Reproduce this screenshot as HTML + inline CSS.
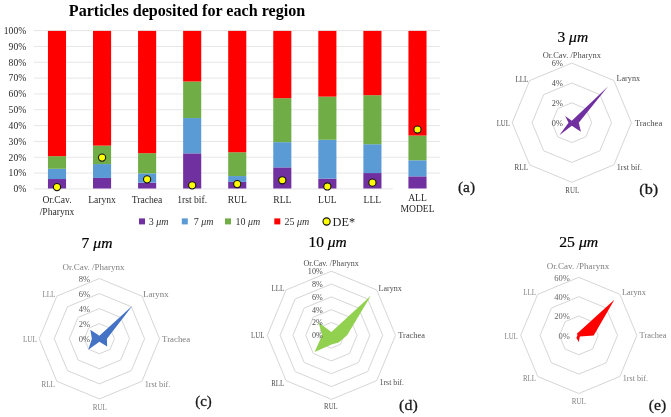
<!DOCTYPE html><html><head><meta charset="utf-8"><title>Particles deposited for each region</title>
<style>html,body{margin:0;padding:0;background:#fff}svg{display:block;will-change:transform}text{font-family:"Liberation Serif","DejaVu Serif",serif}.ax{font-size:9.6px;fill:#2b2b2b}.lg{font-size:10px;fill:#333}.tt{font-size:15.2px;fill:#000;stroke:#000;stroke-width:0.2px}.pl{font-size:15.3px;fill:#1a1a1a;stroke:#1a1a1a;stroke-width:0.3px}</style></head><body>
<svg width="671" height="417" viewBox="0 0 671 417">
<rect width="671" height="417" fill="#fff"/>
<line x1="34" x2="392.7" y1="188.90" y2="188.90" stroke="#d9d9d9" stroke-width="0.65"/>
<text class="ax" x="26.2" y="192.20" text-anchor="end">0%</text>
<line x1="34" x2="440" y1="173.07" y2="173.07" stroke="#d9d9d9" stroke-width="0.65"/>
<text class="ax" x="26.2" y="176.37" text-anchor="end">10%</text>
<line x1="34" x2="440" y1="157.24" y2="157.24" stroke="#d9d9d9" stroke-width="0.65"/>
<text class="ax" x="26.2" y="160.54" text-anchor="end">20%</text>
<line x1="34" x2="440" y1="141.41" y2="141.41" stroke="#d9d9d9" stroke-width="0.65"/>
<text class="ax" x="26.2" y="144.71" text-anchor="end">30%</text>
<line x1="34" x2="440" y1="125.58" y2="125.58" stroke="#d9d9d9" stroke-width="0.65"/>
<text class="ax" x="26.2" y="128.88" text-anchor="end">40%</text>
<line x1="34" x2="440" y1="109.75" y2="109.75" stroke="#d9d9d9" stroke-width="0.65"/>
<text class="ax" x="26.2" y="113.05" text-anchor="end">50%</text>
<line x1="34" x2="440" y1="93.92" y2="93.92" stroke="#d9d9d9" stroke-width="0.65"/>
<text class="ax" x="26.2" y="97.22" text-anchor="end">60%</text>
<line x1="34" x2="440" y1="78.09" y2="78.09" stroke="#d9d9d9" stroke-width="0.65"/>
<text class="ax" x="26.2" y="81.39" text-anchor="end">70%</text>
<line x1="34" x2="440" y1="62.26" y2="62.26" stroke="#d9d9d9" stroke-width="0.65"/>
<text class="ax" x="26.2" y="65.56" text-anchor="end">80%</text>
<line x1="34" x2="440" y1="46.43" y2="46.43" stroke="#d9d9d9" stroke-width="0.65"/>
<text class="ax" x="26.2" y="49.73" text-anchor="end">90%</text>
<line x1="34" x2="440" y1="30.60" y2="30.60" stroke="#d9d9d9" stroke-width="0.65"/>
<text class="ax" x="26.2" y="33.90" text-anchor="end">100%</text>
<rect x="47.95" y="179.04" width="18.1" height="9.46" fill="#7030a0"/>
<rect x="47.95" y="168.80" width="18.1" height="10.24" fill="#5b9bd5"/>
<rect x="47.95" y="156.19" width="18.1" height="12.61" fill="#70ad47"/>
<rect x="47.95" y="30.90" width="18.1" height="125.29" fill="#ff0000"/>
<rect x="93.01" y="177.94" width="18.1" height="10.56" fill="#7030a0"/>
<rect x="93.01" y="164.07" width="18.1" height="13.87" fill="#5b9bd5"/>
<rect x="93.01" y="145.63" width="18.1" height="18.44" fill="#70ad47"/>
<rect x="93.01" y="30.90" width="18.1" height="114.73" fill="#ff0000"/>
<rect x="138.07" y="182.67" width="18.1" height="5.83" fill="#7030a0"/>
<rect x="138.07" y="173.37" width="18.1" height="9.30" fill="#5b9bd5"/>
<rect x="138.07" y="153.20" width="18.1" height="20.17" fill="#70ad47"/>
<rect x="138.07" y="30.90" width="18.1" height="122.30" fill="#ff0000"/>
<rect x="183.13" y="153.36" width="18.1" height="35.14" fill="#7030a0"/>
<rect x="183.13" y="118.05" width="18.1" height="35.30" fill="#5b9bd5"/>
<rect x="183.13" y="81.49" width="18.1" height="36.56" fill="#70ad47"/>
<rect x="183.13" y="30.90" width="18.1" height="50.59" fill="#ff0000"/>
<rect x="228.19" y="181.88" width="18.1" height="6.62" fill="#7030a0"/>
<rect x="228.19" y="176.05" width="18.1" height="5.83" fill="#5b9bd5"/>
<rect x="228.19" y="152.25" width="18.1" height="23.80" fill="#70ad47"/>
<rect x="228.19" y="30.90" width="18.1" height="121.35" fill="#ff0000"/>
<rect x="273.25" y="167.38" width="18.1" height="21.12" fill="#7030a0"/>
<rect x="273.25" y="142.17" width="18.1" height="25.22" fill="#5b9bd5"/>
<rect x="273.25" y="98.20" width="18.1" height="43.97" fill="#70ad47"/>
<rect x="273.25" y="30.90" width="18.1" height="67.30" fill="#ff0000"/>
<rect x="318.31" y="178.57" width="18.1" height="9.93" fill="#7030a0"/>
<rect x="318.31" y="139.80" width="18.1" height="38.77" fill="#5b9bd5"/>
<rect x="318.31" y="96.62" width="18.1" height="43.18" fill="#70ad47"/>
<rect x="318.31" y="30.90" width="18.1" height="65.72" fill="#ff0000"/>
<rect x="363.37" y="173.06" width="18.1" height="15.44" fill="#7030a0"/>
<rect x="363.37" y="144.21" width="18.1" height="28.84" fill="#5b9bd5"/>
<rect x="363.37" y="95.20" width="18.1" height="49.01" fill="#70ad47"/>
<rect x="363.37" y="30.90" width="18.1" height="64.30" fill="#ff0000"/>
<rect x="408.43" y="176.36" width="18.1" height="12.14" fill="#7030a0"/>
<rect x="408.43" y="160.29" width="18.1" height="16.08" fill="#5b9bd5"/>
<rect x="408.43" y="135.55" width="18.1" height="24.74" fill="#70ad47"/>
<rect x="408.43" y="30.90" width="18.1" height="104.65" fill="#ff0000"/>
<circle cx="57.00" cy="187.08" r="3.6" fill="#ffff00" stroke="#111" stroke-width="1.1"/>
<circle cx="102.06" cy="157.61" r="3.6" fill="#ffff00" stroke="#111" stroke-width="1.1"/>
<circle cx="147.12" cy="179.36" r="3.6" fill="#ffff00" stroke="#111" stroke-width="1.1"/>
<circle cx="192.18" cy="185.35" r="3.6" fill="#ffff00" stroke="#111" stroke-width="1.1"/>
<circle cx="237.24" cy="184.09" r="3.6" fill="#ffff00" stroke="#111" stroke-width="1.1"/>
<circle cx="282.30" cy="180.30" r="3.6" fill="#ffff00" stroke="#111" stroke-width="1.1"/>
<circle cx="327.36" cy="186.45" r="3.6" fill="#ffff00" stroke="#111" stroke-width="1.1"/>
<circle cx="372.42" cy="182.67" r="3.6" fill="#ffff00" stroke="#111" stroke-width="1.1"/>
<circle cx="417.48" cy="129.56" r="3.6" fill="#ffff00" stroke="#111" stroke-width="1.1"/>
<text class="ax" x="57.00" y="203.40" text-anchor="middle">Or.Cav.</text>
<text class="ax" x="57.00" y="214.95" text-anchor="middle">/Pharynx</text>
<text class="ax" x="102.06" y="203.40" text-anchor="middle">Larynx</text>
<text class="ax" x="147.12" y="203.40" text-anchor="middle">Trachea</text>
<text class="ax" x="192.18" y="203.40" text-anchor="middle">1rst bif.</text>
<text class="ax" x="237.24" y="203.40" text-anchor="middle">RUL</text>
<text class="ax" x="282.30" y="203.40" text-anchor="middle">RLL</text>
<text class="ax" x="327.36" y="203.40" text-anchor="middle">LUL</text>
<text class="ax" x="372.42" y="203.40" text-anchor="middle">LLL</text>
<text class="ax" x="417.48" y="200.90" text-anchor="middle">ALL</text>
<text class="ax" x="417.48" y="212.45" text-anchor="middle">MODEL</text>
<text x="187" y="15.6" text-anchor="middle" font-weight="bold" font-size="16.1px" fill="#000">Particles deposited for each region</text>
<rect x="139" y="218.4" width="6" height="6" fill="#7030a0"/>
<text class="lg" x="148.8" y="224.6">3 <tspan font-style="italic">μm</tspan></text>
<rect x="181.8" y="218.4" width="6" height="6" fill="#5b9bd5"/>
<text class="lg" x="193.7" y="224.6">7 <tspan font-style="italic">μm</tspan></text>
<rect x="225" y="218.4" width="6" height="6" fill="#70ad47"/>
<text class="lg" x="235.4" y="224.6">10 <tspan font-style="italic">μm</tspan></text>
<rect x="274.3" y="218.4" width="6" height="6" fill="#ff0000"/>
<text class="lg" x="284.6" y="224.6">25 <tspan font-style="italic">μm</tspan></text>
<circle cx="326.6" cy="221.5" r="3.6" fill="#ffff00" stroke="#111" stroke-width="1.1"/>
<text x="332.6" y="225.8" font-size="12.3px" fill="#222">DE*</text>
<text class="pl" x="466.5" y="192.3" text-anchor="middle" textLength="17" lengthAdjust="spacingAndGlyphs">(a)</text>
<text class="pl" x="648.7" y="193.6" text-anchor="middle" textLength="18.9" lengthAdjust="spacingAndGlyphs">(b)</text>
<text class="pl" x="203.5" y="406.3" text-anchor="middle" textLength="16.6" lengthAdjust="spacingAndGlyphs">(c)</text>
<text class="pl" x="408.4" y="409.8" text-anchor="middle" textLength="18.6" lengthAdjust="spacingAndGlyphs">(d)</text>
<text class="pl" x="657.5" y="409.8" text-anchor="middle" textLength="17.4" lengthAdjust="spacingAndGlyphs">(e)</text>
<polygon points="571.80,102.83 585.85,108.65 591.67,122.70 585.85,136.75 571.80,142.57 557.75,136.75 551.93,122.70 557.75,108.65" fill="none" stroke="#d6d6d6" stroke-width="1"/>
<polygon points="571.80,82.97 599.90,94.60 611.53,122.70 599.90,150.80 571.80,162.43 543.70,150.80 532.07,122.70 543.70,94.60" fill="none" stroke="#d6d6d6" stroke-width="1"/>
<polygon points="571.80,63.10 613.94,80.56 631.40,122.70 613.94,164.84 571.80,182.30 529.66,164.84 512.20,122.70 529.66,80.56" fill="none" stroke="#d6d6d6" stroke-width="1"/>
<polygon points="571.80,120.71 607.97,86.53 578.75,122.70 580.93,131.83 571.80,125.68 559.30,135.20 568.52,122.70 565.13,116.03" fill="#7030a0"/>
<text x="562.80" y="125.70" text-anchor="end" font-size="8.3px" fill="#4d4d4d">0%</text>
<text x="562.80" y="105.83" text-anchor="end" font-size="8.3px" fill="#4d4d4d">2%</text>
<text x="562.80" y="85.97" text-anchor="end" font-size="8.3px" fill="#4d4d4d">4%</text>
<text x="562.80" y="66.10" text-anchor="end" font-size="8.3px" fill="#4d4d4d">6%</text>
<text class="tt" x="557.5" y="41.6" textLength="30.6" lengthAdjust="spacingAndGlyphs">3 <tspan font-style="italic">μm</tspan></text>
<text x="542.7" y="58.10" text-anchor="start" font-size="8.5px" fill="#4d4d4d" textLength="58.2" lengthAdjust="spacingAndGlyphs">Or.Cav. /Pharynx</text>
<text x="616.5" y="80.80" text-anchor="start" font-size="8.5px" fill="#4d4d4d" textLength="23.6" lengthAdjust="spacingAndGlyphs">Larynx</text>
<text x="634.7" y="125.50" text-anchor="start" font-size="8.5px" fill="#4d4d4d" textLength="27.6" lengthAdjust="spacingAndGlyphs">Trachea</text>
<text x="616.8" y="169.50" text-anchor="start" font-size="8.5px" fill="#4d4d4d" textLength="25.2" lengthAdjust="spacingAndGlyphs">1rst bif.</text>
<text x="565.3" y="192.90" text-anchor="start" font-size="8.5px" fill="#4d4d4d" textLength="13.8" lengthAdjust="spacingAndGlyphs">RUL</text>
<text x="528" y="169.70" text-anchor="end" font-size="8.5px" fill="#4d4d4d" textLength="13.4" lengthAdjust="spacingAndGlyphs">RLL</text>
<text x="509.8" y="125.60" text-anchor="end" font-size="8.5px" fill="#4d4d4d" textLength="13.1" lengthAdjust="spacingAndGlyphs">LUL</text>
<text x="528.4" y="81.70" text-anchor="end" font-size="8.5px" fill="#4d4d4d" textLength="12.9" lengthAdjust="spacingAndGlyphs">LLL</text>
<polygon points="99.40,323.65 110.04,328.06 114.45,338.70 110.04,349.34 99.40,353.75 88.76,349.34 84.35,338.70 88.76,328.06" fill="none" stroke="#d6d6d6" stroke-width="1"/>
<polygon points="99.40,308.60 120.68,317.42 129.50,338.70 120.68,359.98 99.40,368.80 78.12,359.98 69.30,338.70 78.12,317.42" fill="none" stroke="#d6d6d6" stroke-width="1"/>
<polygon points="99.40,293.55 131.33,306.77 144.55,338.70 131.33,370.63 99.40,383.85 67.47,370.63 54.25,338.70 67.47,306.77" fill="none" stroke="#d6d6d6" stroke-width="1"/>
<polygon points="99.40,278.50 141.97,296.13 159.60,338.70 141.97,381.27 99.40,398.90 56.83,381.27 39.20,338.70 56.83,296.13" fill="none" stroke="#d6d6d6" stroke-width="1"/>
<polygon points="99.40,335.69 132.66,305.44 106.93,338.70 107.12,346.42 99.40,341.71 88.23,349.87 91.88,338.70 90.35,329.65" fill="#4472c4"/>
<text x="90.20" y="342.10" text-anchor="end" font-size="8.5px" fill="#595959">0%</text>
<text x="90.20" y="327.05" text-anchor="end" font-size="8.5px" fill="#595959">2%</text>
<text x="90.20" y="312.00" text-anchor="end" font-size="8.5px" fill="#595959">4%</text>
<text x="90.20" y="296.95" text-anchor="end" font-size="8.5px" fill="#595959">6%</text>
<text x="90.20" y="281.90" text-anchor="end" font-size="8.5px" fill="#595959">8%</text>
<text class="tt" x="81.6" y="248.0" textLength="30.8" lengthAdjust="spacingAndGlyphs">7 <tspan font-style="italic">μm</tspan></text>
<text x="62.4" y="269.50" text-anchor="start" font-size="8.6px" fill="#808080" textLength="62.2" lengthAdjust="spacingAndGlyphs">Or.Cav. /Pharynx</text>
<text x="143" y="297.10" text-anchor="start" font-size="8.6px" fill="#808080" textLength="25.7" lengthAdjust="spacingAndGlyphs">Larynx</text>
<text x="162.1" y="341.80" text-anchor="start" font-size="8.6px" fill="#808080" textLength="28" lengthAdjust="spacingAndGlyphs">Trachea</text>
<text x="144.7" y="386.90" text-anchor="start" font-size="8.6px" fill="#808080" textLength="25.6" lengthAdjust="spacingAndGlyphs">1rst bif.</text>
<text x="92.7" y="409.80" text-anchor="start" font-size="8.6px" fill="#808080" textLength="14.3" lengthAdjust="spacingAndGlyphs">RUL</text>
<text x="54.9" y="386.50" text-anchor="end" font-size="8.6px" fill="#808080" textLength="13.4" lengthAdjust="spacingAndGlyphs">RLL</text>
<text x="36.8" y="342.20" text-anchor="end" font-size="8.6px" fill="#808080" textLength="13.8" lengthAdjust="spacingAndGlyphs">LUL</text>
<text x="55.3" y="297.30" text-anchor="end" font-size="8.6px" fill="#808080" textLength="12.9" lengthAdjust="spacingAndGlyphs">LLL</text>
<polygon points="331.40,322.48 340.47,326.23 344.22,335.30 340.47,344.37 331.40,348.12 322.33,344.37 318.58,335.30 322.33,326.23" fill="none" stroke="#d6d6d6" stroke-width="1"/>
<polygon points="331.40,309.66 349.53,317.17 357.04,335.30 349.53,353.43 331.40,360.94 313.27,353.43 305.76,335.30 313.27,317.17" fill="none" stroke="#d6d6d6" stroke-width="1"/>
<polygon points="331.40,296.84 358.60,308.10 369.86,335.30 358.60,362.50 331.40,373.76 304.20,362.50 292.94,335.30 304.20,308.10" fill="none" stroke="#d6d6d6" stroke-width="1"/>
<polygon points="331.40,284.02 367.66,299.04 382.68,335.30 367.66,371.56 331.40,386.58 295.14,371.56 280.12,335.30 295.14,299.04" fill="none" stroke="#d6d6d6" stroke-width="1"/>
<polygon points="331.40,271.20 376.73,289.97 395.50,335.30 376.73,380.63 331.40,399.40 286.07,380.63 267.30,335.30 286.07,289.97" fill="none" stroke="#d6d6d6" stroke-width="1"/>
<polygon points="331.40,332.10 370.83,295.87 347.10,335.30 338.65,342.55 331.40,344.59 314.63,352.07 322.11,335.30 318.57,322.47" fill="#92d050"/>
<text x="322.70" y="338.20" text-anchor="end" font-size="8.1px" fill="#4d4d4d">0%</text>
<text x="322.70" y="325.38" text-anchor="end" font-size="8.1px" fill="#4d4d4d">2%</text>
<text x="322.70" y="312.56" text-anchor="end" font-size="8.1px" fill="#4d4d4d">4%</text>
<text x="322.70" y="299.74" text-anchor="end" font-size="8.1px" fill="#4d4d4d">6%</text>
<text x="322.70" y="286.92" text-anchor="end" font-size="8.1px" fill="#4d4d4d">8%</text>
<text x="322.70" y="274.10" text-anchor="end" font-size="8.1px" fill="#4d4d4d">10%</text>
<text class="tt" x="308.6" y="247.4" textLength="38.1" lengthAdjust="spacingAndGlyphs">10 <tspan font-style="italic">μm</tspan></text>
<text x="303.4" y="266.10" text-anchor="start" font-size="8.2px" fill="#4d4d4d" textLength="55.5" lengthAdjust="spacingAndGlyphs">Or.Cav. /Pharynx</text>
<text x="378.6" y="291.00" text-anchor="start" font-size="8.2px" fill="#4d4d4d" textLength="23.1" lengthAdjust="spacingAndGlyphs">Larynx</text>
<text x="398.3" y="338.00" text-anchor="start" font-size="8.2px" fill="#4d4d4d" textLength="26.6" lengthAdjust="spacingAndGlyphs">Trachea</text>
<text x="379.6" y="385.30" text-anchor="start" font-size="8.2px" fill="#4d4d4d" textLength="24.3" lengthAdjust="spacingAndGlyphs">1rst bif.</text>
<text x="324.1" y="408.80" text-anchor="start" font-size="8.2px" fill="#4d4d4d" textLength="13.6" lengthAdjust="spacingAndGlyphs">RUL</text>
<text x="284.1" y="385.60" text-anchor="end" font-size="8.2px" fill="#4d4d4d" textLength="12.9" lengthAdjust="spacingAndGlyphs">RLL</text>
<text x="264.4" y="338.00" text-anchor="end" font-size="8.2px" fill="#4d4d4d" textLength="13.3" lengthAdjust="spacingAndGlyphs">LUL</text>
<text x="284.1" y="291.00" text-anchor="end" font-size="8.2px" fill="#4d4d4d" textLength="12.6" lengthAdjust="spacingAndGlyphs">LLL</text>
<polygon points="578.80,316.03 592.49,321.71 598.17,335.40 592.49,349.09 578.80,354.77 565.11,349.09 559.43,335.40 565.11,321.71" fill="none" stroke="#d6d6d6" stroke-width="1"/>
<polygon points="578.80,296.67 606.19,308.01 617.53,335.40 606.19,362.79 578.80,374.13 551.41,362.79 540.07,335.40 551.41,308.01" fill="none" stroke="#d6d6d6" stroke-width="1"/>
<polygon points="578.80,277.30 619.88,294.32 636.90,335.40 619.88,376.48 578.80,393.50 537.72,376.48 520.70,335.40 537.72,294.32" fill="none" stroke="#d6d6d6" stroke-width="1"/>
<polygon points="578.80,332.01 614.34,299.86 593.71,335.40 579.83,336.43 578.80,341.98 576.34,337.86 577.44,335.40 577.02,333.62" fill="#ff0000"/>
<text x="569.90" y="338.70" text-anchor="end" font-size="8.5px" fill="#666">0%</text>
<text x="569.90" y="319.33" text-anchor="end" font-size="8.5px" fill="#666">20%</text>
<text x="569.90" y="299.97" text-anchor="end" font-size="8.5px" fill="#666">40%</text>
<text x="569.90" y="280.60" text-anchor="end" font-size="8.5px" fill="#666">60%</text>
<text class="tt" x="559.2" y="246.6" textLength="39.0" lengthAdjust="spacingAndGlyphs">25 <tspan font-style="italic">μm</tspan></text>
<text x="546.8" y="268.70" text-anchor="start" font-size="8.6px" fill="#808080" textLength="62.4" lengthAdjust="spacingAndGlyphs">Or.Cav. /Pharynx</text>
<text x="621.9" y="295.10" text-anchor="start" font-size="8.6px" fill="#808080" textLength="24" lengthAdjust="spacingAndGlyphs">Larynx</text>
<text x="639.5" y="337.90" text-anchor="start" font-size="8.6px" fill="#808080" textLength="27" lengthAdjust="spacingAndGlyphs">Trachea</text>
<text x="622.8" y="380.90" text-anchor="start" font-size="8.6px" fill="#808080" textLength="25.2" lengthAdjust="spacingAndGlyphs">1rst bif.</text>
<text x="571.8" y="403.70" text-anchor="start" font-size="8.6px" fill="#808080" textLength="14.1" lengthAdjust="spacingAndGlyphs">RUL</text>
<text x="535.9" y="380.70" text-anchor="end" font-size="8.6px" fill="#808080" textLength="12.9" lengthAdjust="spacingAndGlyphs">RLL</text>
<text x="517.8" y="338.80" text-anchor="end" font-size="8.6px" fill="#808080" textLength="13.3" lengthAdjust="spacingAndGlyphs">LUL</text>
<text x="535.9" y="294.80" text-anchor="end" font-size="8.6px" fill="#808080" textLength="12.6" lengthAdjust="spacingAndGlyphs">LLL</text>
</svg></body></html>
